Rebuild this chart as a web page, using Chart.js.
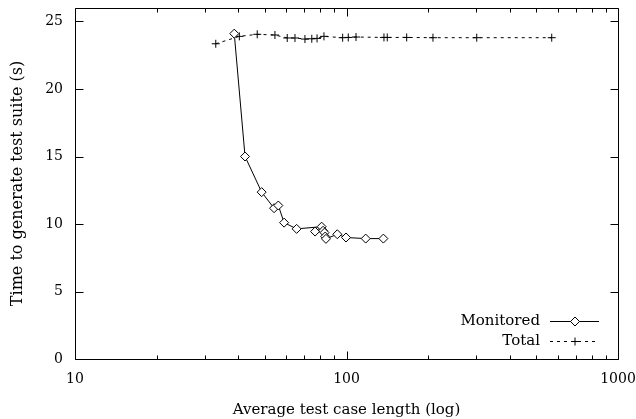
<!DOCTYPE html>
<html><head><meta charset="utf-8">
<script src="https://cdn.jsdelivr.net/npm/chart.js@4"></script>
<style>html,body{margin:0;padding:0;background:#fff}#wrap{width:636px;height:419px}</style>
</head><body><div id="wrap"><canvas id="c" width="636" height="419"></canvas></div>
<script>
// Data
const monX = [38.6, 42.3, 48.7, 54.1, 56.1, 58.9, 65.5, 81.0, 76.6, 82.0, 83.0, 83.5, 84.0, 92.5, 99.6, 117.7, 136.7];
const monY = [24.1, 15.0, 12.36, 11.17, 11.37, 10.1, 9.64, 9.8, 9.44, 9.5, 9.36, 9.07, 8.9, 9.24, 9.0, 8.92, 8.92];
const totX = [33.0, 40.3, 46.9, 54.5, 60.5, 64.6, 70.3, 74.5, 77.9, 82.6, 96.8, 101.5, 108.4, 137.4, 141.3, 166.6, 208.2, 301.8, 570];
const totY = [23.35, 23.9, 24.05, 24.0, 23.78, 23.78, 23.7, 23.72, 23.75, 23.9, 23.8, 23.82, 23.85, 23.82, 23.82, 23.82, 23.8, 23.8, 23.8];
const xTicks = [10, 100, 1000];
const xMinor = [20,30,40,50,60,70,80,90,200,300,400,500,600,700,800,900];
const yTicks = [0, 5, 10, 15, 20, 25];
const seriesNames = ['Monitored', 'Total'];
const xTitle = 'Average test case length (log)';
const yTitle = 'Time to generate test suite (s)';

const FONT = '"DejaVu Serif", "Liberation Serif", serif';
const FS = 15;
const TFS = 14;

const framePlugin = {
  id: 'frame',
  afterDraw(chart) {
    const {ctx, chartArea: a, scales: {x, y}} = chart;
    ctx.save();
    ctx.strokeStyle = '#000';
    ctx.lineWidth = 1;
    ctx.beginPath();
    const L = Math.round(a.left) + 0.5, R = Math.round(a.right) + 0.5;
    const T = Math.round(a.top) + 0.5, B = Math.round(a.bottom) + 0.5;
    ctx.rect(L, T, R - L, B - T);
    xTicks.forEach(v => {
      const px = Math.round(x.getPixelForValue(v)) + 0.5;
      ctx.moveTo(px, B); ctx.lineTo(px, B - 8);
      ctx.moveTo(px, T); ctx.lineTo(px, T + 8);
    });
    xMinor.forEach(v => {
      const px = Math.round(x.getPixelForValue(v)) + 0.5;
      ctx.moveTo(px, B); ctx.lineTo(px, B - 4);
      ctx.moveTo(px, T); ctx.lineTo(px, T + 4);
    });
    yTicks.forEach(v => {
      const py = Math.round(y.getPixelForValue(v)) + 0.5;
      ctx.moveTo(L, py); ctx.lineTo(L + 8, py);
      ctx.moveTo(R, py); ctx.lineTo(R - 8, py);
    });
    ctx.stroke();

    // legend
    ctx.font = FS + 'px ' + FONT;
    ctx.textAlign = 'right';
    ctx.textBaseline = 'middle';
    const rows = [{y: 321, dash: [], style: 'rectRot', r: 4.5}, {y: 341, dash: [3, 4], style: 'cross', r: 4}];
    rows.forEach((row, i) => {
      ctx.fillStyle = '#000';
      ctx.fillText(seriesNames[i], 540, row.y);
      ctx.beginPath();
      ctx.setLineDash(row.dash);
      ctx.moveTo(550, row.y + 0.5); ctx.lineTo(599, row.y + 0.5);
      ctx.stroke();
      ctx.setLineDash([]);
      ctx.fillStyle = '#fff';
      Chart.helpers.drawPoint(ctx, {pointStyle: row.style, radius: row.r, borderWidth: 1, rotation: 0}, 575, row.y + 0.5);
    });
    ctx.restore();
  }
};

new Chart(document.getElementById('c'), {
  type: 'line',
  data: {
    datasets: [
      {
        label: seriesNames[0],
        data: monX.map((v, i) => ({x: v, y: monY[i]})),
        borderColor: '#000', borderWidth: 1, tension: 0, fill: false,
        pointStyle: 'rectRot', pointRadius: 4.5, pointBackgroundColor: '#fff',
        pointBorderColor: '#000', pointBorderWidth: 1
      },
      {
        label: seriesNames[1],
        data: totX.map((v, i) => ({x: v, y: totY[i]})),
        borderColor: '#000', borderWidth: 1, tension: 0, fill: false, borderDash: [3, 4],
        pointStyle: 'cross', pointRadius: 4, pointBorderColor: '#000', pointBorderWidth: 1
      }
    ]
  },
  options: {
    responsive: false,
    animation: false,
    layout: {padding: {left: 0, right: 18, top: 8, bottom: 0}},
    plugins: {legend: {display: false}, tooltip: {enabled: false}},
    scales: {
      x: {
        type: 'logarithmic', min: 10, max: 1000,
        grid: {display: false, drawTicks: false},
        border: {display: false},
        afterBuildTicks(s) { s.ticks = xTicks.map(v => ({value: v})); },
        ticks: {autoSkip: false, maxRotation: 0, padding: 12, color: '#000',
          font: {family: FONT, size: TFS}, callback: v => String(v)},
        title: {display: true, text: xTitle, color: '#000', font: {family: FONT, size: FS}, padding: {top: 6, bottom: 0}},
        afterFit(s) { s.height = 60; s.paddingLeft = 0; s.paddingRight = 0; }
      },
      y: {
        min: 0, max: 26,
        grid: {display: false, drawTicks: false},
        border: {display: false},
        afterBuildTicks(s) { s.ticks = yTicks.map(v => ({value: v})); },
        ticks: {padding: 12, color: '#000', font: {family: FONT, size: TFS}, callback: v => String(v)},
        title: {display: true, text: yTitle, color: '#000', font: {family: FONT, size: 16}, padding: {top: 8, bottom: 0}},
        afterFit(s) { s.width = 75; s.paddingTop = 0; s.paddingBottom = 0; }
      }
    }
  },
  plugins: [framePlugin]
});
</script>
</body></html>
